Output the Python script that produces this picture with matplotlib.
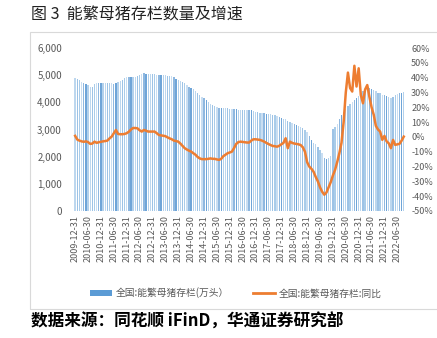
import numpy as np
import pandas as pd
import matplotlib
matplotlib.use('Agg')
import matplotlib.pyplot as plt
from matplotlib.patches import Rectangle, Patch
from matplotlib.lines import Line2D
from matplotlib.ticker import FuncFormatter, MultipleLocator

plt.rcParams['font.family'] = ['Noto Sans CJK SC', 'DejaVu Sans']

# monthly data, 2009-12 .. 2022-09
months = pd.date_range('2009-12-31', periods=154, freq='ME')

# 全国:能繁母猪存栏 (万头)
sows_2009 = [4900]
sows_2010 = [4870, 4830, 4760, 4700, 4660, 4620, 4580, 4560, 4680, 4700, 4700, 4720]
sows_2011 = [4720, 4730, 4720, 4700, 4700, 4690, 4710, 4760, 4800, 4840, 4880, 4920]
sows_2012 = [4930, 4940, 4950, 4950, 4960, 5000, 5060, 5070, 5060, 5050, 5050, 5040]
sows_2013 = [5030, 5010, 5000, 5000, 5000, 4990, 4980, 4970, 4960, 4920, 4870, 4820]
sows_2014 = [4780, 4740, 4700, 4650, 4580, 4530, 4480, 4420, 4360, 4280, 4200, 4150]
sows_2015 = [4080, 4020, 3950, 3900, 3850, 3820, 3800, 3790, 3780, 3780, 3780, 3770]
sows_2016 = [3760, 3750, 3740, 3730, 3730, 3720, 3720, 3710, 3700, 3700, 3680, 3660]
sows_2017 = [3640, 3620, 3600, 3590, 3580, 3570, 3560, 3540, 3520, 3490, 3450, 3420]
sows_2018 = [3400, 3370, 3330, 3270, 3230, 3200, 3170, 3130, 3080, 3040, 2980, 2900]
sows_2019 = [2750, 2620, 2520, 2455, 2367, 2245, 2123, 1939, 1902, 1940, 2010, 3018]
sows_2020 = [3080, 3200, 3370, 3540, 3650, 3760, 3880, 3950, 4030, 4100, 4170, 4230]
sows_2021 = [4300, 4400, 4460, 4560, 4540, 4500, 4470, 4400, 4350, 4330, 4280, 4265]
sows_2022 = [4220, 4180, 4170, 4200, 4265, 4300, 4330, 4355, 4380]

# 全国:能繁母猪存栏:同比 (%)
yoy_2009 = [0.7]
yoy_2010 = [-1.8, -2.5, -3.0, -3.3, -3.0, -3.5, -4.7, -4.5, -3.2, -4.0, -3.6, -3.3]
yoy_2011 = [-3.0, -2.8, -2.5, -1.0, 0.2, 2.5, 4.7, 2.0, 1.8, 1.8, 2.0, 2.5]
yoy_2012 = [3.5, 5.0, 6.0, 6.0, 5.8, 4.5, 3.6, 4.7, 4.2, 3.6, 3.6, 3.6]
yoy_2013 = [3.6, 2.5, 1.3, 1.0, 0.8, 0.5, -0.3, -1.0, -1.6, -2.5, -2.8, -3.2]
yoy_2014 = [-4.5, -6.0, -7.6, -8.5, -9.3, -9.9, -11.0, -12.0, -13.5, -14.5, -15.0, -15.0]
yoy_2015 = [-15.0, -14.8, -14.5, -14.8, -14.8, -15.2, -15.5, -14.8, -13.0, -12.0, -11.0, -10.5]
yoy_2016 = [-9.9, -7.5, -4.7, -3.5, -3.2, -3.4, -3.6, -3.8, -3.8, -2.5, -1.6, -1.6]
yoy_2017 = [-1.8, -2.0, -2.5, -3.2, -4.0, -4.8, -5.5, -6.1, -6.3, -6.6, -6.0, -5.0]
yoy_2018 = [-4.0, -0.9, -7.6, -3.2, -4.0, -4.5, -4.7, -5.0, -5.5, -7.0, -10.0, -17.0]
yoy_2019 = [-20.0, -21.5, -23.5, -27.0, -30.0, -34.0, -37.0, -39.0, -37.5, -34.0, -30.5, -26.0]
yoy_2020 = [-22.3, -17.0, -11.0, -4.0, 10.0, 30.0, 43.4, 33.0, 30.6, 48.0, 34.0, 46.3]
yoy_2021 = [28.3, 22.7, 32.0, 35.0, 27.0, 20.0, 15.0, 7.5, 5.0, 3.6, -2.0, 0.7]
yoy_2022 = [-3.0, -4.3, -7.6, -2.0, -5.4, -5.0, -4.7, -2.5, 0.2]

sows = (sows_2009 + sows_2010 + sows_2011 + sows_2012 + sows_2013 + sows_2014 + sows_2015
        + sows_2016 + sows_2017 + sows_2018 + sows_2019 + sows_2020 + sows_2021 + sows_2022)
yoy = (yoy_2009 + yoy_2010 + yoy_2011 + yoy_2012 + yoy_2013 + yoy_2014 + yoy_2015
       + yoy_2016 + yoy_2017 + yoy_2018 + yoy_2019 + yoy_2020 + yoy_2021 + yoy_2022)

title = '图 3  能繁母猪存栏数量及增速'
source = '数据来源：同花顺 iFinD，华通证券研究部'
bar_label = '全国:能繁母猪存栏(万头）'
line_label = '全国:能繁母猪存栏:同比'

tick_grey = '#595959'
orange = '#ed7d31'
# gradient-filled bars come out as a mix of blue shades at this size
shades = ['#bdd7ee', '#9dc3e6', '#a9cce9', '#c9def2', '#8fb8e0', '#6fa5d8', '#b3d1ec']

fig = plt.figure(figsize=(4.37, 3.38), dpi=100)
fig.patches.append(Rectangle((30 / 437, 1 - 309 / 338), 1, (309 - 32) / 338,
                             transform=fig.transFigure, fill=False,
                             edgecolor='#d9d9d9', linewidth=0.8))

ax = fig.add_axes([73 / 437, 1 - 211 / 338, (407 - 73) / 437, (211 - 48) / 338])
x = np.arange(len(sows))
colors = [shades[i % len(shades)] for i in x]
ax.bar(x, sows, width=0.62, color=colors, linewidth=0)
ax.set_ylim(0, 6000)
ax.set_xlim(-1, len(sows) + 0.5)
ax.yaxis.set_major_locator(MultipleLocator(1000))
ax.yaxis.set_major_formatter(FuncFormatter(lambda v, p: f'{int(v):,}'))

ticks = x[::6]
ax.set_xticks(ticks)
ax.set_xticklabels([months[i].strftime('%Y-%m-%d') for i in ticks], rotation=90)

ax2 = ax.twinx()
ax2.plot(x, yoy, color=orange, linewidth=1.8)
ax2.set_ylim(-50, 60)
ax2.yaxis.set_major_locator(MultipleLocator(10))
ax2.yaxis.set_major_formatter(FuncFormatter(lambda v, p: f'{int(round(v))}%'))

for a in (ax, ax2):
    for s in a.spines.values():
        s.set_visible(False)
    a.tick_params(length=0, colors=tick_grey, labelsize=7)
ax.tick_params(axis='x', labelsize=6.5, pad=3)
ax.tick_params(axis='y', pad=8)
ax2.tick_params(axis='y', pad=3, labelsize=6.5)

handles = [Patch(facecolor='#5b9bd5', edgecolor='none'),
           Line2D([0], [0], color=orange, linewidth=2)]
fig.legend(handles, [bar_label, line_label], loc='center', ncol=2,
           bbox_to_anchor=(0.54, 1 - 293 / 338), frameon=False, fontsize=7,
           labelcolor=tick_grey, handlelength=2.2, handletextpad=0.4, columnspacing=2.5)

fig.text(31 / 437, 1 - 15 / 338, title, fontsize=11.5, color='#222222', va='center')
fig.text(31 / 437, 1 - 322 / 338, source, fontsize=12, fontweight='bold',
         color='black', va='center')

fig.savefig('out.png', dpi=100)
